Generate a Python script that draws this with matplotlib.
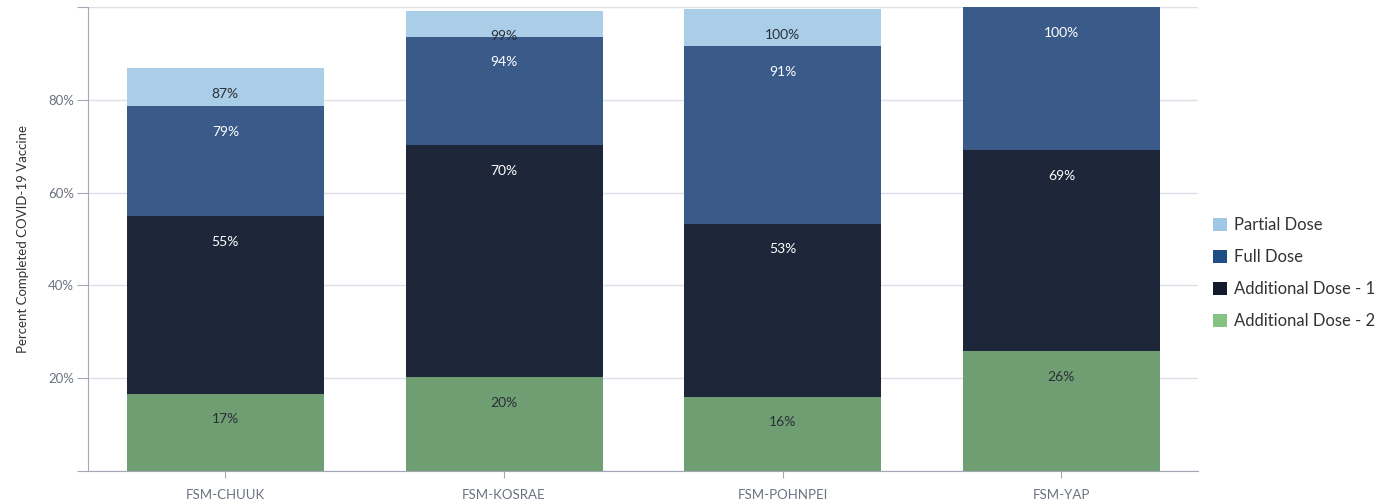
import numpy as np
import matplotlib.pyplot as plt
from matplotlib.patches import Patch

plt.rcParams['font.family'] = ['Lato', 'DejaVu Sans']

# --- data ---
regions = ['FSM-CHUUK', 'FSM-KOSRAE', 'FSM-POHNPEI', 'FSM-YAP']
partial_dose = [86.9, 99.2, 99.6, 100.0]
full_dose = [78.7, 93.6, 91.6, 100.0]
additional_1 = [55.0, 70.3, 53.3, 69.2]
additional_2 = [16.7, 20.3, 16.0, 25.9]
partial_labels = ['87%', '99%', '100%', '100%']
full_labels = ['79%', '94%', '91%', '100%']
add1_labels = ['55%', '70%', '53%', '69%']
add2_labels = ['17%', '20%', '16%', '26%']
series_names = ['Partial Dose', 'Full Dose', 'Additional Dose - 1', 'Additional Dose - 2']

# bar fill, legend swatch, label text colour
bar_colors = ['#abcee8', '#3a5a8a', '#1e2739', '#6e9e72']
legend_colors = ['#9fc8e6', '#1f4e87', '#121b2b', '#86c383']
text_colors = ['#2b2f38', '#ffffff', '#ffffff', '#2b2f38']

fig = plt.figure(figsize=(13.83, 5.04), dpi=100)
ax = fig.add_axes([0.0636, 0.0655, 0.8026, 0.9205])

x = np.arange(len(regions))
width = 0.707
all_vals = [partial_dose, full_dose, additional_1, additional_2]
all_labels = [partial_labels, full_labels, add1_labels, add2_labels]

# overlapping bars drawn back to front
for i, (vals, labs) in enumerate(zip(all_vals, all_labels)):
    ax.bar(x, vals, width=width, color=bar_colors[i], zorder=2 + i)
    for j, (v, lab) in enumerate(zip(vals, labs)):
        # skip label if the next series covers this bar completely
        if i + 1 < len(all_vals) and all_vals[i + 1][j] >= v:
            continue
        ax.annotate(lab, (x[j], v), xytext=(0, -18.5), textcoords='offset points',
                    ha='center', va='center', fontsize=10, color=text_colors[i],
                    zorder=10)

ax.set_xlim(-0.493, 3.49)
ax.set_ylim(0, 100)
ax.set_yticks([0, 20, 40, 60, 80, 100])
ax.set_yticklabels(['', '20%', '40%', '60%', '80%', ''])
ax.set_xticks(x)
ax.set_xticklabels(regions)

ax.grid(axis='y', color='#dde0e8', linewidth=1, zorder=0)
ax.set_axisbelow(True)
for s in ['top', 'right']:
    ax.spines[s].set_visible(False)
for s in ['left', 'bottom']:
    ax.spines[s].set_color('#a3a8b4')
ax.tick_params(axis='y', length=8, color='#a3a8b4', labelcolor='#6b7280', labelsize=9.5, pad=2)
ax.tick_params(axis='x', length=5, color='#a3a8b4', labelcolor='#6b7280', labelsize=9.5, pad=8)
ax.set_ylabel('Percent Completed COVID-19 Vaccine', fontsize=9.5, color='#333333', labelpad=14)

handles = [Patch(facecolor=c, label=n) for c, n in zip(legend_colors, series_names)]
fig.legend(handles=handles, loc='center left', bbox_to_anchor=(0.866, 0.458), frameon=False,
           fontsize=12, handlelength=0.85, handleheight=0.85, handletextpad=0.45,
           labelspacing=0.95, labelcolor='#333333')

fig.savefig('out.png', dpi=100)
